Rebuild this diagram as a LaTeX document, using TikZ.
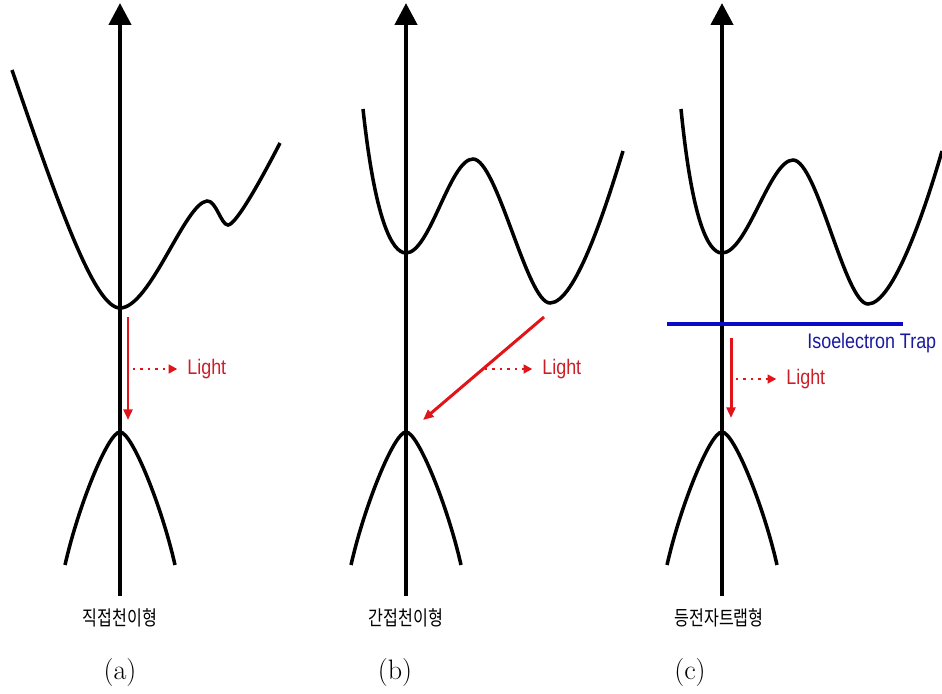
\documentclass[tikz,border=0pt]{standalone}
\usepackage{fontspec}
\newfontfamily\kofont[FakeStretch=0.8]{Noto Sans CJK KR}
\newfontfamily\lightfont[FakeStretch=0.85]{Liberation Sans}
\usetikzlibrary{arrows.meta}
\definecolor{lightred}{RGB}{225,20,25}
\definecolor{lighttext}{RGB}{205,30,40}
\definecolor{trapline}{RGB}{10,10,200}
\definecolor{traptext}{RGB}{25,25,160}

\begin{document}
\begin{tikzpicture}[x=0.02cm, y=-0.02cm,
	axis/.style={line width=2.5pt, -{Triangle[width=12.5pt, length=12.5pt]}},
	band/.style={line width=2pt},
	emit/.style={line width=1.7pt, lightred, -{Triangle[width=5pt, length=6pt]}},
	ray/.style={line width=1.4pt, lightred, dash pattern=on 1.4pt off 2.8pt, -{Triangle[width=5pt, length=5pt]}, shorten >=5.5pt},
	lbl/.style={font=\lightfont\fontsize{12}{14}\selectfont, text=lighttext, inner sep=0pt, anchor=west},
	kolabel/.style={font=\kofont\fontsize{11.5}{13}\selectfont, inner sep=0pt},
	sublabel/.style={font=\fontsize{16}{18}\selectfont, inner sep=0pt}]

	\useasboundingbox (0,0) rectangle (942,693);

	% axes
	\foreach \x in {120,406,722}
		\draw[axis] (\x,596) -- (\x,3);

	% valence bands
	\foreach \x in {120,406,722} {
		\begin{scope}[shift={(\x,432)}]
			\draw[band] (-55,133) .. controls (-42,75) and (-12,0) .. (0,0)
				.. controls (12,0) and (42,75) .. (55,133);
		\end{scope}
	}

	% conduction bands
	\draw[band] (12,70) .. controls (60,210) and (95,308) .. (120,308)
		.. controls (150,308) and (185,203) .. (207,201)
		.. controls (216,200) and (221,225) .. (228,225)
		.. controls (236,225) and (262,178) .. (280,143);
	\draw[band] (363,109) .. controls (375,220) and (392,253) .. (406,253)
		.. controls (430,253) and (450,159) .. (473,159)
		.. controls (497,159) and (527,303) .. (550,303)
		.. controls (575,303) and (605,210) .. (623,151);
	\draw[band] (681,109) .. controls (692,220) and (708,253) .. (722,253)
		.. controls (747,253) and (770,160) .. (793,160)
		.. controls (817,160) and (845,304) .. (868,304)
		.. controls (893,304) and (925,210) .. (942,151);

	% (a)
	\coordinate (a1) at (128,317);
	\coordinate (a2) at (128,420);
	\coordinate (ra) at (133,369);
	\node[lbl] (la) at (187,369) {Light};
	\draw[emit] (a1) -- (a2);
	\draw[ray] (ra) -- (la);

	% (b)
	\coordinate (b1) at (544,317);
	\coordinate (b2) at (423,420);
	\coordinate (rb) at (485,369);
	\node[lbl] (lb) at (542,369) {Light};
	\draw[emit] (b1) -- (b2);
	\draw[ray] (rb) -- (lb);

	% (c)
	\coordinate (t1) at (667,324);
	\coordinate (t2) at (903,324);
	\draw[line width=2pt, trapline] (t1) -- (t2);
	\node[lbl, text=traptext] (trap) at (807,343) {Isoelectron Trap};
	\coordinate (c1) at (731,338);
	\coordinate (c2) at (731,418);
	\coordinate (rc) at (736,379);
	\node[lbl] (lc) at (786,379) {Light};
	\draw[emit] (c1) -- (c2);
	\draw[ray] (rc) -- (lc);

	% captions
	\node[kolabel] (na) at (120,618) {직접천이형};
	\node[kolabel] (nb) at (406,618) {간접천이형};
	\node[kolabel] (nc) at (719,618) {등전자트랩형};
	\node[sublabel] (ta) at (120,672) {(a)};
	\node[sublabel] (tb) at (395,672) {(b)};
	\node[sublabel] (tc) at (690,672) {(c)};
\end{tikzpicture}
\end{document}
